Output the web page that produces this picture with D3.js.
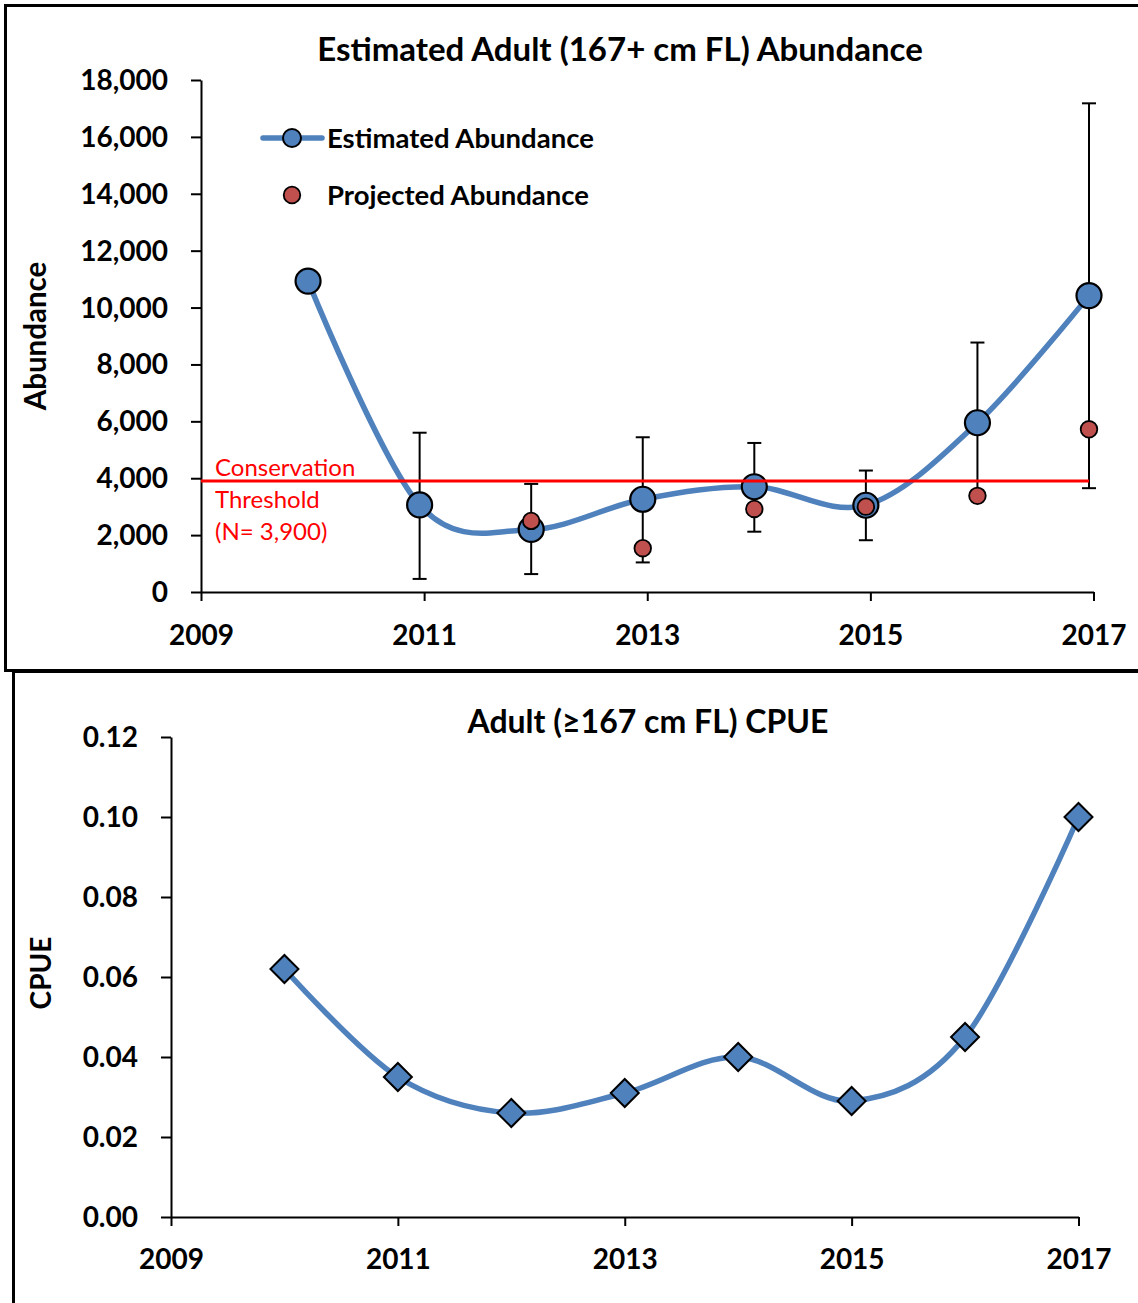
<!DOCTYPE html>
<html>
<head>
<meta charset="utf-8">
<script src="https://cdn.jsdelivr.net/npm/d3@7"></script>
<style>
  html, body { margin: 0; padding: 0; background: #fff; }
  svg { display: block; }
  text { font-family: Lato, "Noto Sans", sans-serif; fill: #000; }
  .bold { font-weight: 700; }
</style>
</head>
<body>
<svg id="chart" width="1138" height="1303"></svg>
<script>
// ---- Data ----
const years = [2010, 2011, 2012, 2013, 2014, 2015, 2016, 2017];
const estAbundance = [10930, 3060, 2200, 3260, 3700, 3050, 5950, 10420];
const ciLower = [null, 460, 630, 1040, 2120, 1820, 3380, 3650];
const ciUpper = [null, 5600, 3800, 5440, 5240, 4270, 8770, 17180];
const projYears = [2012, 2013, 2014, 2015, 2016, 2017];
const projAbundance = [2500, 1540, 2920, 3000, 3380, 5720];
const threshold = 3900;
const thresholdLines = ["Conservation", "Threshold", "(N= 3,900)"];
const cpue = [0.062, 0.035, 0.026, 0.031, 0.040, 0.029, 0.045, 0.100];
const xTickYears = [2009, 2011, 2013, 2015, 2017];
const abundanceTicks = d3.range(0, 18001, 2000);
const cpueTicks = [0, 0.02, 0.04, 0.06, 0.08, 0.10, 0.12];

const BLUE = "#4F81BD", RED = "#C0504D", THRESH = "#FF0000";
const svg = d3.select("#chart");

// ---- Panel frames ----
svg.append("rect").attr("x", 5.5).attr("y", 5.5).attr("width", 1200).attr("height", 665)
  .attr("fill", "none").attr("stroke", "#000").attr("stroke-width", 3);
svg.append("rect").attr("x", 13.5).attr("y", 671.5).attr("width", 1200).attr("height", 700)
  .attr("fill", "none").attr("stroke", "#000").attr("stroke-width", 3);

function styleAxis(g) {
  g.selectAll("path.domain").attr("stroke", "#000").attr("stroke-width", 2);
  g.selectAll(".tick line").attr("stroke", "#000").attr("stroke-width", 2);
  g.selectAll("text").attr("class", "bold").style("font-size", "28px")
    .style("font-family", "Lato, 'Noto Sans', sans-serif").attr("fill", "#000");
}

// ================= Top: abundance =================
{
  const x = d3.scaleLinear().domain([2009, 2017]).range([201, 1093.5]);
  const y = d3.scaleLinear().domain([0, 18000]).range([592, 80]);
  // markers sit slightly before each year tick on the date axis
  const shift = -4.5;
  const px = v => x(v) + shift;

  const gx = svg.append("g").attr("transform", "translate(0,592)")
    .call(d3.axisBottom(x).tickValues(xTickYears).tickFormat(d3.format("d")).tickSize(9).tickSizeOuter(0));
  styleAxis(gx);
  gx.selectAll("text").attr("y", 33).attr("dy", "0.71em");

  const gy = svg.append("g").attr("transform", "translate(201,0)")
    .call(d3.axisLeft(y).tickValues(abundanceTicks).tickFormat(d3.format(",")).tickSize(10).tickSizeOuter(0));
  styleAxis(gy);
  gy.selectAll("text").attr("x", -33).attr("dy", "0.34em");

  svg.append("text").attr("class", "bold").attr("text-anchor", "middle")
    .attr("transform", "translate(620,61)").style("font-size", "33px")
    .text("Estimated Adult (167+ cm FL) Abundance");

  svg.append("text").attr("class", "bold").attr("text-anchor", "middle")
    .attr("transform", "translate(46,336) rotate(-90)").style("font-size", "29.5px")
    .text("Abundance");

  const pts = years.map((yr, i) => ({ yr, v: estAbundance[i], lo: ciLower[i], hi: ciUpper[i] }));

  // smoothed estimate line
  svg.append("path").datum(pts)
    .attr("d", d3.line().x(d => px(d.yr)).y(d => y(d.v)).curve(d3.curveCatmullRom.alpha(0)))
    .attr("fill", "none").attr("stroke", BLUE).attr("stroke-width", 5.5).attr("stroke-linecap", "round");

  // confidence bars
  const eb = svg.append("g").attr("stroke", "#000").attr("stroke-width", 2);
  pts.filter(d => d.lo != null).forEach(d => {
    eb.append("line").attr("x1", px(d.yr)).attr("x2", px(d.yr)).attr("y1", y(d.hi)).attr("y2", y(d.lo));
    [d.lo, d.hi].forEach(v => eb.append("line")
      .attr("x1", px(d.yr) - 7).attr("x2", px(d.yr) + 7).attr("y1", y(v)).attr("y2", y(v)));
  });

  svg.append("g").selectAll("circle").data(pts).join("circle")
    .attr("cx", d => px(d.yr)).attr("cy", d => y(d.v)).attr("r", 12.5)
    .attr("fill", BLUE).attr("stroke", "#000").attr("stroke-width", 2.2);

  svg.append("g").selectAll("circle").data(projYears.map((yr, i) => ({ yr, v: projAbundance[i] }))).join("circle")
    .attr("cx", d => px(d.yr)).attr("cy", d => y(d.v)).attr("r", 8.3)
    .attr("fill", RED).attr("stroke", "#000").attr("stroke-width", 1.8);

  // conservation threshold
  svg.append("line").attr("x1", 201).attr("x2", px(2017)).attr("y1", y(threshold)).attr("y2", y(threshold))
    .attr("stroke", THRESH).attr("stroke-width", 3);
  svg.append("g").selectAll("text").data(thresholdLines).join("text")
    .attr("x", 215).attr("y", (d, i) => 476 + i * 32)
    .style("font-size", "24px").attr("fill", THRESH).style("fill", THRESH)
    .text(d => d);

  // legend
  const lg = svg.append("g");
  lg.append("line").attr("x1", 263).attr("x2", 322).attr("y1", 138).attr("y2", 138)
    .attr("stroke", BLUE).attr("stroke-width", 5.5).attr("stroke-linecap", "round");
  lg.append("circle").attr("cx", 292).attr("cy", 138).attr("r", 9)
    .attr("fill", BLUE).attr("stroke", "#000").attr("stroke-width", 2);
  lg.append("text").attr("class", "bold").attr("x", 327).attr("y", 138).attr("dy", "0.35em")
    .style("font-size", "27.5px").text("Estimated Abundance");
  lg.append("circle").attr("cx", 292).attr("cy", 195).attr("r", 8.3)
    .attr("fill", RED).attr("stroke", "#000").attr("stroke-width", 1.8);
  lg.append("text").attr("class", "bold").attr("x", 327).attr("y", 195).attr("dy", "0.35em")
    .style("font-size", "27.5px").text("Projected Abundance");
}

// ================= Bottom: CPUE =================
{
  const x = d3.scaleLinear().domain([2009, 2017]).range([171, 1078.5]);
  const y = d3.scaleLinear().domain([0, 0.12]).range([1217, 737]);

  const gx = svg.append("g").attr("transform", "translate(0,1217)")
    .call(d3.axisBottom(x).tickValues(xTickYears).tickFormat(d3.format("d")).tickSize(9).tickSizeOuter(0));
  styleAxis(gx);
  gx.selectAll("text").attr("y", 32).attr("dy", "0.71em");

  const gy = svg.append("g").attr("transform", "translate(171,0)")
    .call(d3.axisLeft(y).tickValues(cpueTicks).tickFormat(d3.format(".2f")).tickSize(10).tickSizeOuter(0));
  styleAxis(gy);
  gy.selectAll("text").attr("x", -33).attr("dy", "0.34em");

  svg.append("text").attr("class", "bold").attr("text-anchor", "middle")
    .attr("transform", "translate(648,733)").style("font-size", "32px")
    .text("Adult (≥167 cm FL) CPUE");

  svg.append("text").attr("class", "bold").attr("text-anchor", "middle")
    .attr("transform", "translate(51,973) rotate(-90)").style("font-size", "28px")
    .text("CPUE");

  const pts = years.map((yr, i) => ({ yr, v: cpue[i] }));
  svg.append("path").datum(pts)
    .attr("d", d3.line().x(d => x(d.yr)).y(d => y(d.v)).curve(d3.curveCatmullRom.alpha(0)))
    .attr("fill", "none").attr("stroke", BLUE).attr("stroke-width", 5.5).attr("stroke-linecap", "round");

  const diamond = d3.symbol().type(d3.symbolSquare).size(2 * 14 * 14);
  svg.append("g").selectAll("path").data(pts).join("path")
    .attr("d", diamond)
    .attr("transform", d => `translate(${x(d.yr)},${y(d.v)}) rotate(45)`)
    .attr("fill", BLUE).attr("stroke", "#000").attr("stroke-width", 2);
}
</script>
</body>
</html>
